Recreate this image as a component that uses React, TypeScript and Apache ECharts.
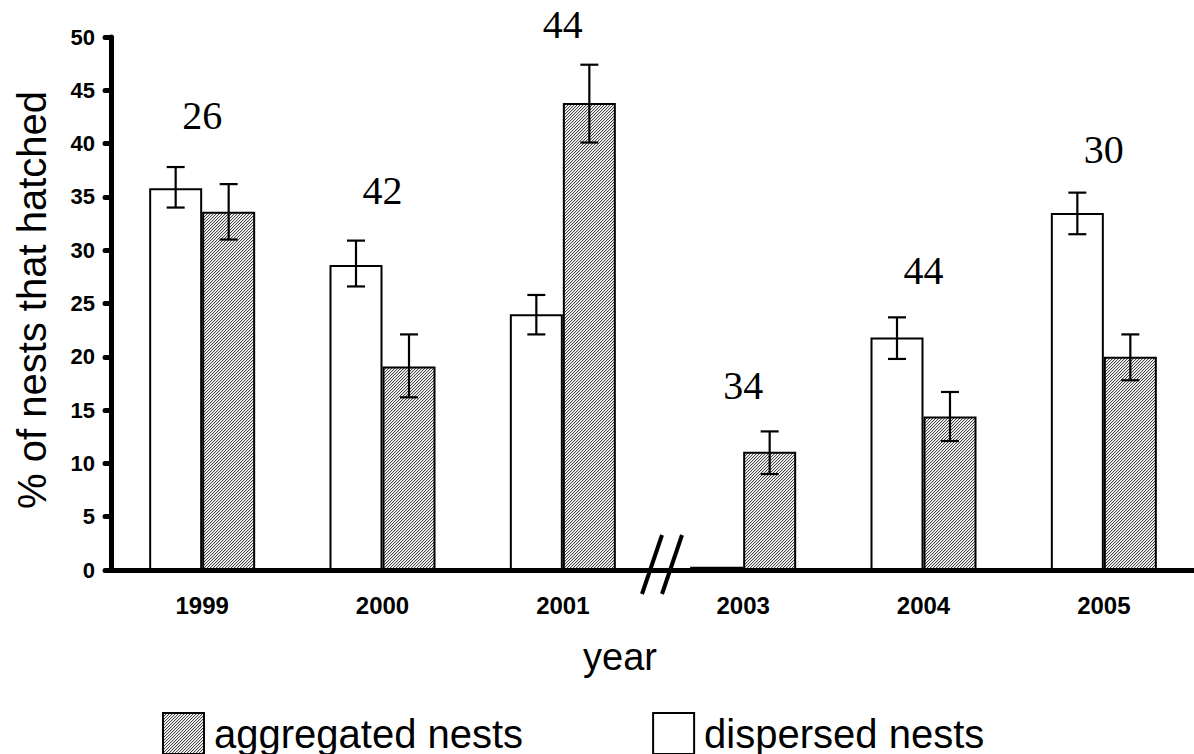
import React, { useEffect, useRef } from "react";
import * as echarts from "echarts";

const years = ["1999", "2000", "2001", "2003", "2004", "2005"];
const dispersed = [35.8, 28.6, 24.0, 0.3, 21.8, 33.5];
const dispersedLow = [34.0, 26.6, 22.1, 0.3, 19.8, 31.5];
const dispersedHigh = [37.8, 30.9, 25.8, 0.3, 23.7, 35.4];
const aggregated = [33.6, 19.1, 43.8, 11.1, 14.4, 20.0];
const aggregatedLow = [31.0, 16.2, 40.1, 9.0, 12.1, 17.8];
const aggregatedHigh = [36.2, 22.1, 47.4, 13.0, 16.7, 22.1];
const sampleSizes = [26, 42, 44, 34, 44, 30];
const sampleLabelLevel = [42.6, 35.6, 51.2, 17.3, 28.1, 39.4];

const BAR_W = 53;
const SANS = "Liberation Sans, Arial, sans-serif";
const SERIF = "Liberation Serif, Times New Roman, serif";

function makeHatch() {
  const n = 3;
  const c = document.createElement("canvas");
  c.width = n;
  c.height = n;
  const ctx = c.getContext("2d")!;
  const img = ctx.createImageData(n, n);
  const tones = [70, 215, 255];
  for (let y = 0; y < n; y++) {
    for (let x = 0; x < n; x++) {
      const k = (x + y) % n;
      const v = tones[k];
      const i = (y * n + x) * 4;
      img.data[i] = v;
      img.data[i + 1] = v;
      img.data[i + 2] = v;
      img.data[i + 3] = 255;
    }
  }
  ctx.putImageData(img, 0, 0);
  return c;
}

function errorBarSeries(name: string, low: number[], high: number[], offset: number) {
  return {
    type: "custom",
    name,
    z: 5,
    clip: false,
    data: low.map((l, i) => [i, l, high[i]]),
    encode: { x: 0, y: [1, 2] },
    renderItem: (params: any, api: any) => {
      const hi = api.coord([api.value(0), api.value(2)]);
      const lo = api.coord([api.value(0), api.value(1)]);
      const x = hi[0] + offset;
      const half = 9;
      const style = { stroke: "#000", lineWidth: 2.2 };
      if (Math.abs(hi[1] - lo[1]) < 1) return { type: "group", children: [] };
      return {
        type: "group",
        children: [
          { type: "line", shape: { x1: x, y1: hi[1], x2: x, y2: lo[1] }, style },
          { type: "line", shape: { x1: x - half, y1: hi[1], x2: x + half, y2: hi[1] }, style },
          { type: "line", shape: { x1: x - half, y1: lo[1], x2: x + half, y2: lo[1] }, style },
        ],
      };
    },
  };
}

export default function App() {
  const ref = useRef<HTMLDivElement>(null);
  useEffect(() => {
    if (!ref.current) return;
    const chart = echarts.init(ref.current, null, { renderer: "svg" });
    const hatch = makeHatch();
    const hatchFill: any = { image: hatch, repeat: "repeat", imageWidth: 3, imageHeight: 3 };
    chart.setOption({
      animation: false,
      backgroundColor: "#fff",
      grid: { left: 112, top: 37, width: 1086, height: 533 },
      legend: {
        data: ["aggregated nests", "dispersed nests"],
        left: 162,
        top: 712,
        padding: 0,
        icon: "rect",
        itemWidth: 41,
        itemHeight: 41,
        itemGap: 129,
        textStyle: { fontFamily: SANS, fontSize: 40, color: "#000", padding: [0, 0, 0, 5] },
      },
      xAxis: {
        type: "category",
        data: years,
        axisLine: { show: true, lineStyle: { color: "#000", width: 5 } },
        axisTick: { show: false },
        axisLabel: { fontFamily: SANS, fontWeight: "bold", fontSize: 24, color: "#000", margin: 23 },
        splitLine: { show: false },
      },
      yAxis: {
        type: "value",
        min: 0,
        max: 50,
        interval: 5,
        offset: 1,
        axisLine: { show: true, lineStyle: { color: "#000", width: 5 } },
        axisTick: { show: true, length: 6, lineStyle: { color: "#000", width: 5, cap: "round" } },
        axisLabel: { fontFamily: SANS, fontWeight: "bold", fontSize: 22, color: "#000", margin: 16 },
        splitLine: { show: false },
      },
      series: [
        {
          type: "bar",
          name: "dispersed nests",
          data: dispersed,
          barWidth: BAR_W,
          barGap: "0%",
          itemStyle: { color: "#fff", borderColor: "#000", borderWidth: 2 },
        },
        {
          type: "bar",
          name: "aggregated nests",
          data: aggregated,
          barWidth: BAR_W,
          barGap: "0%",
          itemStyle: { color: hatchFill, borderColor: "#000", borderWidth: 2 },
        },
        errorBarSeries("err-d", dispersedLow, dispersedHigh, -BAR_W / 2),
        errorBarSeries("err-a", aggregatedLow, aggregatedHigh, BAR_W / 2),
        {
          type: "custom",
          name: "n",
          z: 6,
          clip: false,
          data: sampleLabelLevel.map((v, i) => [i, v, sampleSizes[i]]),
          encode: { x: 0, y: 1 },
          renderItem: (params: any, api: any) => {
            const p = api.coord([api.value(0), api.value(1)]);
            return {
              type: "text",
              x: p[0],
              y: p[1],
              style: {
                text: String(api.value(2)),
                font: `40px ${SERIF}`,
                fill: "#000",
                align: "center",
                verticalAlign: "middle",
              },
            };
          },
        },
      ],
      graphic: [
        {
          type: "text",
          x: 32,
          y: 300,
          rotation: Math.PI / 2,
          style: {
            text: "% of nests that hatched",
            font: `40px ${SANS}`,
            fill: "#000",
            align: "center",
            verticalAlign: "middle",
          },
        },
        {
          type: "text",
          x: 620,
          y: 657,
          style: {
            text: "year",
            font: `38px ${SANS}`,
            fill: "#000",
            align: "center",
            verticalAlign: "middle",
          },
        },
        {
          type: "line",
          shape: { x1: 642, y1: 594, x2: 662, y2: 535 },
          style: { stroke: "#000", lineWidth: 4 },
          z: 10,
        },
        {
          type: "line",
          shape: { x1: 662, y1: 594, x2: 682, y2: 535 },
          style: { stroke: "#000", lineWidth: 4 },
          z: 10,
        },
      ],
    });
    return () => chart.dispose();
  }, []);
  return (
    <div
      ref={ref}
      style={{ position: "fixed", left: 0, top: 0, width: 1194, height: 754, background: "#fff" }}
    />
  );
}
